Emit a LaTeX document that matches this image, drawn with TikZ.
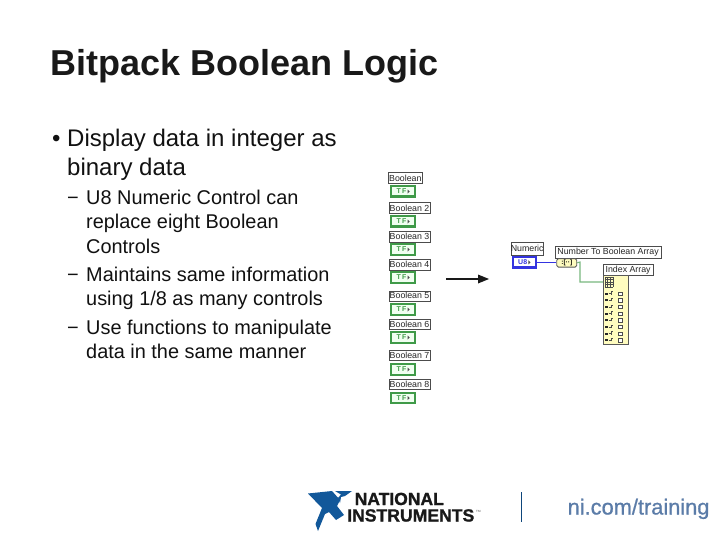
\documentclass[tikz,border=0pt]{standalone}
\usepackage{fontspec}
\setmainfont{Liberation Sans}
\newfontfamily\urlfont[FakeBold=0.8]{Liberation Sans}
\newfontfamily\logofont[BoldFeatures={FakeBold=1.2}]{Liberation Sans}
\definecolor{lvgreen}{HTML}{3F9A48}
\definecolor{lvblue}{HTML}{3434E0}
\definecolor{nitext}{HTML}{5B7CA8}
\definecolor{niblue}{HTML}{12589A}
\definecolor{bodyc}{HTML}{111111}
\tikzset{
  x=1pt,y=-1pt,
  txt/.style={anchor=base west,inner sep=0pt,text=bodyc},
  lab/.style={draw=black!70,line width=0.6pt,fill=white,inner sep=0pt,font=\fontsize{8.8}{9}\selectfont,text=black!85},
  boolctl/.style={draw=lvgreen,line width=2.4pt,fill=green!6!white,minimum width=24pt,minimum height=10.5pt,inner sep=0pt,font=\bfseries\fontsize{7}{7}\selectfont,text=lvgreen},
}
\newcommand{\labbox}[6]{\node[lab,minimum width=#3-#2,minimum height=#5-#4,anchor=north west] (#1) at (#2,#4) {#6};}
\newcommand{\ctl}[4]{\node[boolctl,anchor=north west] (#1) at (#2+1,#3+1) {T\,F\,\raisebox{0.3pt}{\tikz[baseline]\fill[black!70] (0,4pt)--(2.2pt,2pt)--(0,0)--cycle;}};}
\begin{document}
\begin{tikzpicture}
\useasboundingbox (0,0) rectangle (720,540);
\fill[white] (0,0) rectangle (720,540);
% title
\node[txt,font=\bfseries\fontsize{36}{38}\selectfont,text=black!90] (title) at (50,76) {Bitpack Boolean Logic};
% bullets
\begin{scope}[every node/.append style={txt,font=\fontsize{24}{26}\selectfont}]
\node (b0) at (52,147) {•};
\node (b1) at (67,147) {Display data in integer as};
\node (b2) at (67,176) {binary data};
\end{scope}
\begin{scope}[every node/.append style={txt,font=\fontsize{19.9}{22}\selectfont}]
\node (d1) at (67,205) {−};
\node (s1) at (86,205) {U8 Numeric Control can};
\node (s2) at (86,229) {replace eight Boolean};
\node (s3) at (86,253) {Controls};
\node (d2) at (67,281) {−};
\node (s4) at (86,281) {Maintains same information};
\node (s5) at (86,305) {using 1/8 as many controls};
\node (d3) at (67,334) {−};
\node (s6) at (86,334) {Use functions to manipulate};
\node (s7) at (86,358) {data in the same manner};
\end{scope}
% boolean controls
\labbox{l1}{388}{422}{172.5}{183}{Boolean}
\labbox{l2}{388.5}{430}{202.5}{213}{Boolean 2}
\labbox{l3}{388.5}{430}{231}{241.5}{Boolean 3}
\labbox{l4}{388.5}{430}{259}{269.5}{Boolean 4}
\labbox{l5}{388.5}{430}{290.5}{300.5}{Boolean 5}
\labbox{l6}{388.5}{430}{319}{329}{Boolean 6}
\labbox{l7}{388.5}{430}{350}{360}{Boolean 7}
\labbox{l8}{388.5}{430}{378.5}{389}{Boolean 8}
\ctl{c1}{389}{184}{}
\ctl{c2}{389}{214}{}
\ctl{c3}{389}{242}{}
\ctl{c4}{389}{270}{}
\ctl{c5}{389}{302}{}
\ctl{c6}{389}{330}{}
\ctl{c7}{389}{362}{}
\ctl{c8}{389}{390.5}{}
% arrow
\coordinate (as) at (446,279);
\coordinate (ae) at (489,279);
\draw[line width=1.5pt,black!90] (as) -- (482,279);
\fill[black!90] (478,274.5) -- (489,279) -- (478,283.5) -- cycle;
% right diagram
\labbox{ln}{510.5}{543}{242}{254.5}{Numeric}
\node[draw=lvblue,line width=2.4pt,fill=white,minimum width=23pt,minimum height=10.5pt,inner sep=0pt,anchor=north west,font=\bfseries\fontsize{7}{7}\selectfont,text=lvblue] (num) at (511.7,255.8) {U8\,\raisebox{0.3pt}{\tikz[baseline]\fill[black!70] (0,4pt)--(2.2pt,2pt)--(0,0)--cycle;}};
\labbox{lf}{555}{660.5}{246}{257.5}{Number To Boolean Array}
\node[draw=black!65,line width=0.9pt,fill=yellow!25!white,rounded corners=1.5pt,minimum width=20pt,minimum height=8.4pt,inner sep=0pt,anchor=north west,font=\bfseries\fontsize{6.5}{6}\selectfont] (fn) at (556.3,258.2) {:[··]};
\labbox{li}{602.7}{653}{264}{275}{Index Array}
\node[draw=black!65,line width=0.9pt,fill=yellow!25!white,minimum width=25pt,minimum height=69pt,inner sep=0pt,anchor=north west] (idx) at (603,275) {};
\draw[draw=lvblue,line width=0.9pt] (num.east) -- (num.east -| fn.west);
\coordinate (gw) at (580,262);
\coordinate (gt) at (603,282);
\draw[draw=lvgreen!70,line width=1.1pt] (fn.east) -- (gw) -- (gw |- gt) -- (gt);
% grid icon
\draw[black!70,line width=0.4pt] \foreach \i in {0,1,2,3}{(605+\i*2.6,277) -- (605+\i*2.6,287)} \foreach \j in {0,1,2,3,4}{(605,277+\j*2.5) -- (613,277+\j*2.5)};
\foreach \n/\y in {1/293.5,2/300.2,3/306.9,4/313.6,5/320.3,6/327,7/333.7,8/340.4}{
  \fill[black!85] (605,\y-1) rectangle (608,\y+1);
  \draw[black!70,line width=0.5pt] (608.5,\y) -- (610.5,\y) (611,\y+1) -- (611,\y-2) -- (612.5,\y-2);
  \draw[black!70,line width=0.6pt,fill=white] (618.5,\y-1.7) rectangle (621.8,\y+1.7);
}
% footer
\fill[niblue] (308,493.5) -- (332,491) -- (340,500) -- (337,506) -- (344,515) -- (336,520) -- (329,512) -- (325,514) -- (318,531) -- (315.5,524) -- (322,508) -- cycle;
\fill[niblue] (335,491) -- (352,491) -- (345,496) -- (341,497) -- (340,503) -- (338,498) -- (341,494.5) -- cycle;
\node[anchor=base west,inner sep=0pt,font=\logofont\bfseries\fontsize{17.5}{18}\selectfont,text=black!90] (nat) at (354.5,505) {NATIONAL};
\node[anchor=base west,inner sep=0pt,font=\logofont\bfseries\fontsize{17.6}{18}\selectfont,text=black!90] (ins) at (347,521.5) {INSTRUMENTS};
\node[anchor=base west,inner sep=0pt,font=\fontsize{3}{3}\selectfont,text=black!70] (tm) at (476,512) {TM};
\coordinate (v1) at (521.5,492);
\coordinate (v2) at (521.5,522);
\draw[niblue!80!black,line width=1pt] (v1) -- (v2);
\node[anchor=base west,inner sep=0pt,font=\urlfont\fontsize{21.8}{22}\selectfont,text=nitext] (url) at (567.5,514.5) {ni.com/training};
\end{tikzpicture}
\end{document}
